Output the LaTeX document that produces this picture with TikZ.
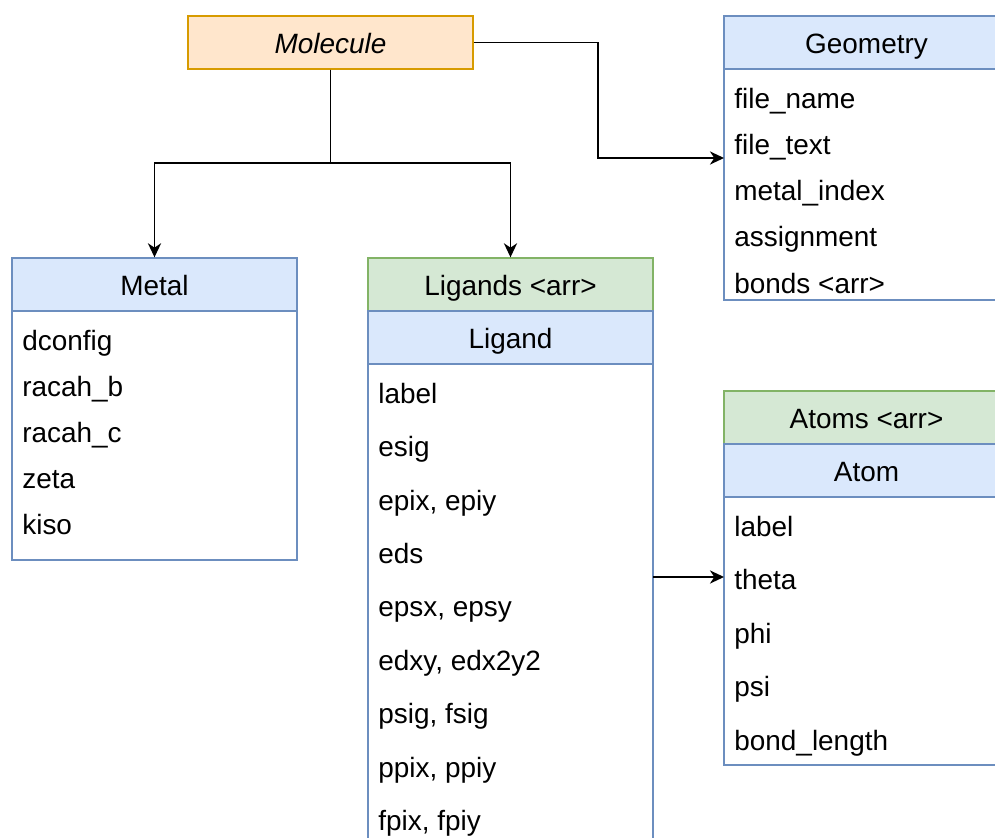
\documentclass[tikz,border=0pt]{standalone}
\usepackage{fontspec}
\setmainfont{Liberation Sans}
\usetikzlibrary{arrows.meta,positioning}
\definecolor{blueFill}{HTML}{DAE8FC}\definecolor{blueLine}{HTML}{6C8EBF}
\definecolor{greenFill}{HTML}{D5E8D4}\definecolor{greenLine}{HTML}{82B366}
\definecolor{orangeFill}{HTML}{FFE6CC}\definecolor{orangeLine}{HTML}{D79B00}

\begin{document}
\begin{tikzpicture}[>={Stealth[length=8pt,width=7.5pt,inset=2.5pt]},x=0.02cm,y=-0.02cm,
  font=\fontsize{15.9}{19}\selectfont,
  box/.style={draw=blueLine,line width=0.8pt,minimum width=5.7cm,inner sep=0,text height=1.28em,text depth=0pt},
  head/.style={box,fill=blueFill,minimum height=1.06cm},
  arr/.style={box,draw=greenLine,fill=greenFill,minimum height=1.06cm},
  item/.style={anchor=west,inner sep=0,text height=0.72em,text depth=0.22em},
  link/.style={line width=1pt,->}]
\useasboundingbox (0,0) rectangle (995,838);
\clip (0,0) rectangle (995,838);
% class boxes
\node[box,draw=orangeLine,fill=orangeFill,minimum height=1.06cm] (mol) at (330.5,42.5) {\itshape Molecule};
\node[box,minimum height=4.98cm] (metalbody) at (154.5,435.5) {};
\node[head] (metal) at (154.5,284.5) {Metal};
\node[box,minimum height=9.92cm] (ligbody) at (510.5,612) {};
\node[arr] (ligs) at (510.5,284.5) {Ligands <arr>};
\node[head] (lig) at (510.5,337.5) {Ligand};
\node[box,minimum height=4.62cm] (geobody) at (866.5,184.5) {};
\node[head] (geo) at (866.5,42.5) {Geometry};
\node[box,minimum height=5.36cm] (atombody) at (866.5,631) {};
\node[arr] (atoms) at (866.5,417.5) {Atoms <arr>};
\node[head] (atom) at (866.5,470.5) {Atom};
% fields
\foreach \t [count=\i from 0] in {dconfig,racah\_b,racah\_c,zeta,kiso}
  \node[item] (metal\i) at (22,{346+46*\i}) {\t};
\foreach \t [count=\i from 0] in {label,esig,{epix, epiy},eds,{epsx, epsy},{edxy, edx2y2},{psig, fsig},{ppix, ppiy},{fpix, fpiy}}
  \node[item] (lig\i) at (378,{399+53.4*\i}) {\t};
\foreach \t [count=\i from 0] in {file\_name,file\_text,metal\_index,assignment,bonds <arr>}
  \node[item] (geo\i) at (734,{104+46.2*\i}) {\t};
\foreach \t [count=\i from 0] in {label,theta,phi,psi,bond\_length}
  \node[item] (atom\i) at (734,{532+53.5*\i}) {\t};
% connectors
\coordinate (geoin) at (724,158);
\coordinate (ligout) at (653,577);
\coordinate (atomin) at (724,577);
\draw[link] (mol.south) -- (330.5,163) -| (metal.north);
\draw[link] (mol.south) -- (330.5,163) -| (ligs.north);
\draw[link] (mol.east) -- (598,42.5) |- (geoin);
\draw[link] (ligout) -- (atomin);
\end{tikzpicture}
\end{document}
